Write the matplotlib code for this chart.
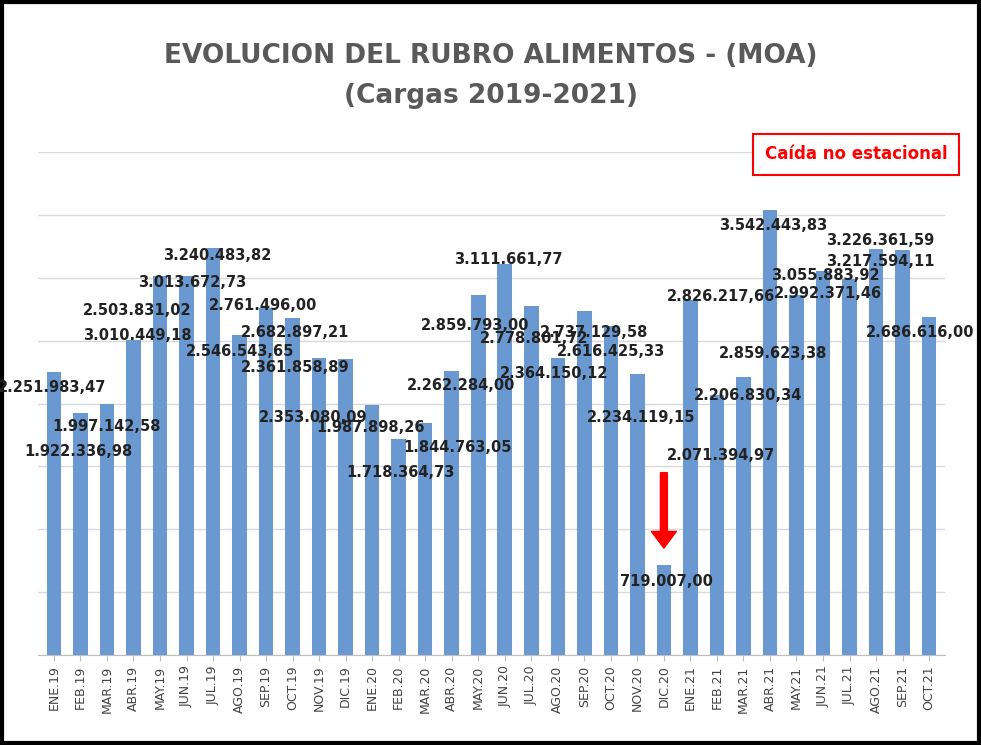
import matplotlib.pyplot as plt
from matplotlib.patches import Rectangle

months = ["ENE.19", "FEB.19", "MAR.19", "ABR.19", "MAY.19", "JUN.19", "JUL.19", "AGO.19",
          "SEP.19", "OCT.19", "NOV.19", "DIC.19", "ENE.20", "FEB.20", "MAR.20", "ABR.20",
          "MAY.20", "JUN.20", "JUL.20", "AGO.20", "SEP.20", "OCT.20", "NOV.20", "DIC.20",
          "ENE.21", "FEB.21", "MAR.21", "ABR.21", "MAY.21", "JUN.21", "JUL.21", "AGO.21",
          "SEP.21", "OCT.21"]
values = [2251983.47, 1922336.98, 1997142.58, 2503831.02, 3010449.18, 3013672.73, 3240483.82,
          2546543.65, 2761496.00, 2682897.21, 2361858.89, 2353080.09, 1987898.26, 1718364.73,
          1844763.05, 2262284.00, 2859793.00, 3111661.77, 2778801.72, 2364150.12, 2737129.58,
          2616425.33, 2234119.15, 719007.00, 2826217.66, 2071394.97, 2206830.34, 3542443.83,
          2859623.38, 3055883.92, 2992371.46, 3226361.59, 3217594.11, 2686616.00]
labels = ["2.251.983,47", "1.922.336,98", "1.997.142,58", "2.503.831,02", "3.010.449,18",
          "3.013.672,73", "3.240.483,82", "2.546.543,65", "2.761.496,00", "2.682.897,21",
          "2.361.858,89", "2.353.080,09", "1.987.898,26", "1.718.364,73", "1.844.763,05",
          "2.262.284,00", "2.859.793,00", "3.111.661,77", "2.778.801,72", "2.364.150,12",
          "2.737.129,58", "2.616.425,33", "2.234.119,15", "719.007,00", "2.826.217,66",
          "2.071.394,97", "2.206.830,34", "3.542.443,83", "2.859.623,38", "3.055.883,92",
          "2.992.371,46", "3.226.361,59", "3.217.594,11", "2.686.616,00"]
# label placement in figure pixels (center x, y from top), as in the original layout
label_px = [(52, 388), (78, 452), (107, 426), (137, 310), (137, 336), (192, 282), (217, 255),
            (240, 352), (263, 305), (295, 333), (295, 367), (313, 417), (371, 427),
            (401, 472), (458, 447), (461, 386), (475, 326), (508, 259), (534, 338),
            (554, 374), (594, 333), (611, 351), (641, 418), (666, 582), (721, 297),
            (721, 456), (748, 395), (773, 226), (773, 353), (825, 275), (828, 293),
            (880, 241), (880, 262), (920, 333)]

FONT = ["Liberation Sans Narrow", "DejaVu Sans"]
W, H = 981, 745
ax_left, ax_right, ax_bottom, ax_top = 38, 945, 655, 152

fig = plt.figure(figsize=(9.81, 7.45), dpi=100)
fig.patches.append(Rectangle((0.002, 0.003), 0.996, 0.994, transform=fig.transFigure,
                             fill=False, edgecolor="black", linewidth=3))
ax = fig.add_axes([ax_left / W, 1 - ax_bottom / H, (ax_right - ax_left) / W,
                   (ax_bottom - ax_top) / H])

x = range(len(months))
ax.bar(x, values, width=0.55, color="#6a98d0", zorder=2)
for lab, (px, py) in zip(labels, label_px):
    fig.text(px / W, 1 - py / H, lab, ha="center", va="center", fontsize=10.5,
             fontweight="bold", color="#222222", family=FONT, zorder=3)

ax.set_xlim(-0.6, len(months) - 0.4)
ax.set_ylim(0, 4000000)
ax.set_yticks(range(0, 4000001, 500000))
ax.set_yticklabels([])
ax.tick_params(axis="y", length=0)
ax.grid(axis="y", color="#d9d9d9", linewidth=1, zorder=0)
ax.set_xticks(list(x))
ax.set_xticklabels(months, rotation=90, fontsize=9, color="#444444")
ax.tick_params(axis="x", length=4, color="#bfbfbf")
for s in ["top", "right", "left"]:
    ax.spines[s].set_visible(False)
ax.spines["bottom"].set_color("#bfbfbf")

fig.text(0.5, 0.915, "EVOLUCION DEL RUBRO ALIMENTOS - (MOA)", ha="center", fontsize=19,
         fontweight="bold", color="#595959", family=FONT)
fig.text(0.5, 0.862, "(Cargas 2019-2021)", ha="center", fontsize=19,
         fontweight="bold", color="#595959", family=FONT)

# arrow for DIC.20
ax.annotate("", xy=(23, 850000), xytext=(23, 1450000),
            arrowprops=dict(facecolor="red", edgecolor="red", width=5, headwidth=18, headlength=12))

# legend-like box
fig.patches.append(Rectangle((0.768, 0.782), 0.016, 0.022, transform=fig.transFigure,
                             color="red"))
fig.text(0.873, 0.793, "Caída no estacional", ha="center", va="center", fontsize=12,
         fontweight="bold", color="red", family=FONT,
         bbox=dict(boxstyle="square,pad=0.7", facecolor="white", edgecolor="red", linewidth=1.5))

fig.savefig("out.png", dpi=100)
